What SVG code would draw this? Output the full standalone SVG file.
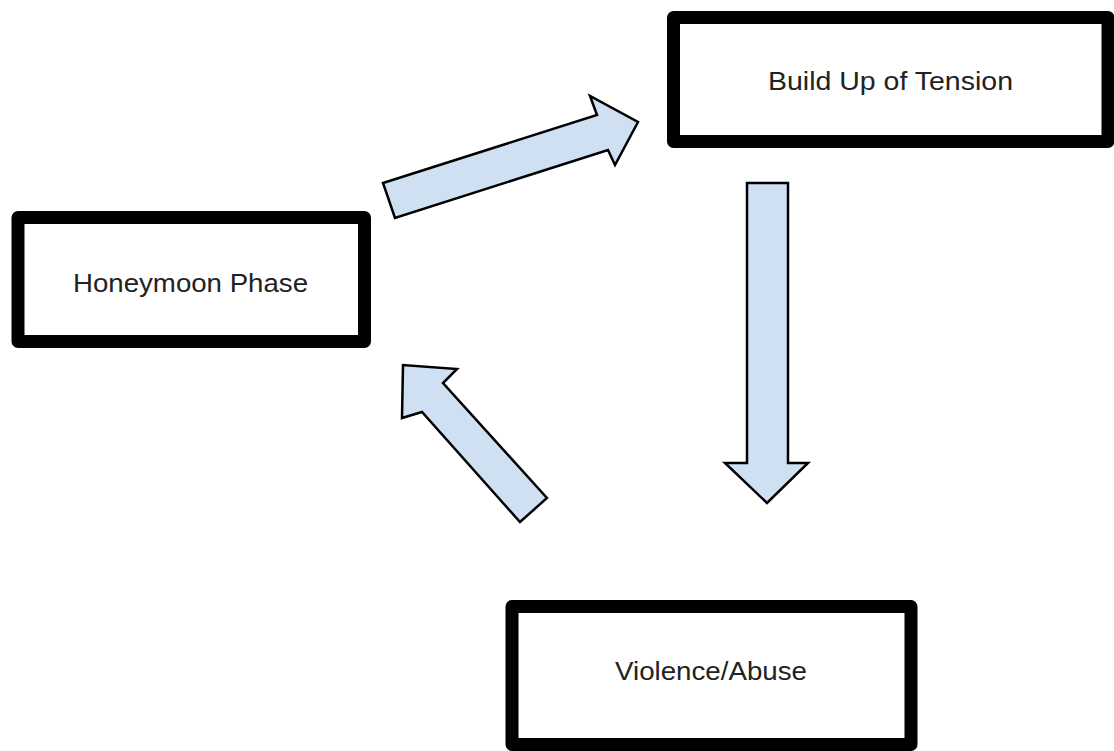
<svg xmlns="http://www.w3.org/2000/svg" width="1114" height="751" viewBox="0 0 1114 751">
<style>
.box{fill:#fff;stroke:#000;stroke-width:13;stroke-linejoin:round}
.lbl{font-family:"Liberation Sans",Arial,sans-serif;font-size:26px;fill:#222;text-anchor:middle}
.arr{fill:#cfe0f3;stroke:#000;stroke-width:2.5;stroke-linejoin:miter}
</style>
<rect width="1114" height="751" fill="#fff"/>
<g id="connectors">
<polygon class="arr" points="383,183 597,115 590,96 638,122 615,165 608,150 395,218"/>
<polygon class="arr" points="747,183 788,183 788,463 808,463 767,503 725,463 747,463"/>
<polygon class="arr" points="547,498 443,383 457,369 403,365 402,418 422,412 520,522"/>
</g>
<g id="node-tension">
<rect class="box" x="673.5" y="17.5" width="434.5" height="124"/>
<text class="lbl" x="890.5" y="90" textLength="245" lengthAdjust="spacingAndGlyphs">Build Up of Tension</text>
</g>
<g id="node-honeymoon">
<rect class="box" x="18" y="217.5" width="346.5" height="124"/>
<text class="lbl" x="190.5" y="292" textLength="235" lengthAdjust="spacingAndGlyphs">Honeymoon Phase</text>
</g>
<g id="node-violence">
<rect class="box" x="512" y="606.5" width="399" height="138"/>
<text class="lbl" x="711" y="680" textLength="192" lengthAdjust="spacingAndGlyphs">Violence/Abuse</text>
</g>
</svg>
